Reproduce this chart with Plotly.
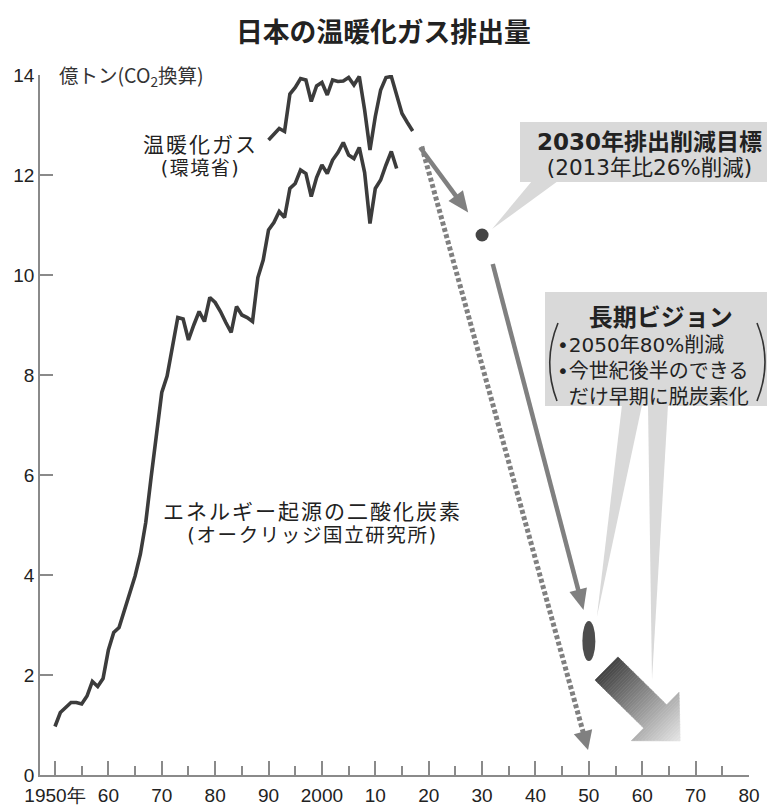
import plotly.graph_objects as go

# ---------------- data ----------------
# Energy-related CO2 emissions (Oak Ridge National Laboratory), 100 million t
co2_years = list(range(1950, 2015))
co2_values = [
    0.97, 1.25, 1.35, 1.45, 1.45, 1.42, 1.58, 1.87, 1.77, 1.93,   # 1950-59
    2.50, 2.85, 2.95, 3.30, 3.62, 3.98, 4.42, 5.05, 5.95, 6.85,   # 1960-69
    7.65, 7.98, 8.60, 9.15, 9.12, 8.70, 9.00, 9.27, 9.07, 9.55,   # 1970-79
    9.45, 9.27, 9.05, 8.85, 9.37, 9.20, 9.15, 9.07, 9.95, 10.30,  # 1980-89
    10.90, 11.05, 11.27, 11.15, 11.73, 11.83, 12.10, 12.03, 11.57, 11.95,  # 1990-99
    12.20, 12.03, 12.30, 12.45, 12.65, 12.40, 12.33, 12.55, 12.05, 11.03,  # 2000-09
    11.73, 11.90, 12.20, 12.47, 12.13,                                    # 2010-14
]

# Greenhouse gas totals (Ministry of the Environment), 100 million t CO2-eq
ghg_years = list(range(1990, 2018))
ghg_values = [
    12.70, 12.82, 12.93, 12.87, 13.62, 13.75, 13.93, 13.90, 13.47, 13.78,  # 1990-99
    13.85, 13.60, 13.90, 13.87, 13.88, 13.95, 13.80, 13.97, 13.30, 12.50,  # 2000-09
    13.17, 13.70, 13.95, 13.97, 13.60, 13.23, 13.05, 12.88,                # 2010-17
]

# 2030 reduction target and 2050 long-term vision
target_year, target_value = 2030, 10.8
vision_year, vision_value = 2050, 2.68

# trend arrows: (start year, start value, end year, end value)
arrow_to_2030 = (2018.4, 12.55, 2027.4, 11.25)
arrow_to_2050 = (2032.0, 10.22, 2049.0, 3.30)
dotted_path = (2018.7, 12.57, 2049.85, 0.50)
decarbon_arrow = (2053.3, 2.13, 2067.1, 0.68)

x_ticks = list(range(1950, 2081, 10))
x_ticktext = ["1950年", "60", "70", "80", "90", "2000", "10",
              "20", "30", "40", "50", "60", "70", "80"]
x_minor = list(range(1955, 2080, 10))
y_ticks = list(range(0, 15, 2))

# ---------------- layout geometry ----------------
W, H = 767, 811
ML, MR, MT, MB = 40, 18, 75, 36
PW, PH = W - ML - MR, H - MT - MB
X_RANGE = [1947.19, 2080]
Y_RANGE = [0, 14]

JP = "Noto Sans CJK JP"
JP_WIDE = "DejaVu Sans, Noto Sans CJK JP"
NUM = "Liberation Sans, Arial, sans-serif"
INK = "#222222"
LINE = "#3c3c3c"
AXIS = "#8a8a8a"
ARROW = "#808080"
BOX = "#d9d9d9"


def to_px(xv, yv):
    px = ML + (xv - X_RANGE[0]) / (X_RANGE[1] - X_RANGE[0]) * PW
    py = MT + (Y_RANGE[1] - yv) / (Y_RANGE[1] - Y_RANGE[0]) * PH
    return px, py


def to_data(px, py):
    xv = X_RANGE[0] + (px - ML) / PW * (X_RANGE[1] - X_RANGE[0])
    yv = Y_RANGE[1] - (py - MT) / PH * (Y_RANGE[1] - Y_RANGE[0])
    return xv, yv


def paper(px, py):
    return (px - ML) / PW, (MT + PH - py) / PH


def paper_path(points):
    pts = [paper(x, y) for x, y in points]
    return "M " + " L ".join(f"{a:.5f},{b:.5f}" for a, b in pts) + " Z"


fig = go.Figure()
shapes = []
annotations = []

# ---- callout boxes (drawn beneath everything) ----
def rect(x0, y0, x1, y1):
    a = paper(x0, y1)
    b = paper(x1, y0)
    shapes.append(dict(type="rect", xref="paper", yref="paper", layer="below",
                       x0=a[0], y0=a[1], x1=b[0], y1=b[1],
                       fillcolor=BOX, line=dict(width=0)))


def wedge(points):
    shapes.append(dict(type="path", xref="paper", yref="paper", layer="below",
                       path=paper_path(points), fillcolor=BOX,
                       line=dict(width=0)))


tx, ty = to_px(target_year, target_value)
vx, vy = to_px(vision_year, vision_value)

rect(520, 122, 767, 182)
wedge([(532, 181), (558, 181), (tx + 10, ty - 6)])

rect(545, 292, 767, 406)
wedge([(622, 405), (642, 405), (vx + 8, vy - 24)])
wedge([(648, 405), (668, 405), (652, 680)])

# brackets around the long-term vision bullets
for p0, c, p1 in [((558, 323), (542, 362), (557, 401)),
                  ((757, 323), (773, 362), (757, 401))]:
    a, b, d = paper(*p0), paper(*c), paper(*p1)
    shapes.append(dict(type="path", xref="paper", yref="paper",
                       path=f"M {a[0]:.5f},{a[1]:.5f} Q {b[0]:.5f},{b[1]:.5f} {d[0]:.5f},{d[1]:.5f}",
                       line=dict(color="#333333", width=1.6)))

# ---- emission curves ----
fig.add_trace(go.Scatter(x=co2_years, y=co2_values, mode="lines",
                         line=dict(color=LINE, width=3.6), cliponaxis=False,
                         hoverinfo="skip", showlegend=False))
fig.add_trace(go.Scatter(x=ghg_years, y=ghg_values, mode="lines",
                         line=dict(color=LINE, width=3.6), cliponaxis=False,
                         hoverinfo="skip", showlegend=False))


# ---- arrows: a line trace plus a filled triangular head ----
def arrow(spec, width, head_len, head_w, dash=None):
    sx, sy = to_px(spec[0], spec[1])
    ex, ey = to_px(spec[2], spec[3])
    L = ((ex - sx) ** 2 + (ey - sy) ** 2) ** 0.5
    ux, uy = (ex - sx) / L, (ey - sy) / L
    nx, ny = -uy, ux
    bx, by = ex - ux * head_len, ey - uy * head_len
    stop = to_data(bx + ux * 1.5, by + uy * 1.5)
    fig.add_trace(go.Scatter(x=[spec[0], stop[0]], y=[spec[1], stop[1]], mode="lines",
                             line=dict(color=ARROW, width=width,
                                       dash=dash or "solid"),
                             cliponaxis=False, hoverinfo="skip", showlegend=False))
    head = [(ex, ey), (bx + nx * head_w / 2, by + ny * head_w / 2),
            (bx - nx * head_w / 2, by - ny * head_w / 2)]
    shapes.append(dict(type="path", xref="paper", yref="paper",
                       path=paper_path(head), fillcolor=ARROW, line=dict(width=0)))


arrow(dotted_path, 5, 19, 19, dash="4px,2.5px")
arrow(arrow_to_2030, 4.5, 21, 18)
arrow(arrow_to_2050, 4.5, 21, 18)

# ---- 2030 target point and 2050 ellipse ----
fig.add_trace(go.Scatter(x=[target_year], y=[target_value], mode="markers",
                         marker=dict(color="#444444", size=13, line=dict(width=0)),
                         cliponaxis=False, hoverinfo="skip", showlegend=False))
ex0, ey0 = to_data(vx - 6.5, vy + 20)
ex1, ey1 = to_data(vx + 6.5, vy - 20)
shapes.append(dict(type="circle", xref="x", yref="y", x0=ex0, x1=ex1, y0=ey0, y1=ey1,
                   fillcolor="#4d4d4d", line=dict(width=0)))

# ---- big gradient arrow toward decarbonisation ----
tx0, ty0 = to_px(decarbon_arrow[0], decarbon_arrow[1])
tx1, ty1 = to_px(decarbon_arrow[2], decarbon_arrow[3])
AL = ((tx1 - tx0) ** 2 + (ty1 - ty0) ** 2) ** 0.5
dx, dy = (tx1 - tx0) / AL, (ty1 - ty0) / AL
nx, ny = -dy, dx
shaft_hw, head_hw, head_len = 16.3, 34.0, 35.0
shaft_len = AL - head_len
c0, c1 = (66, 66, 66), (230, 230, 230)


def hw_at(u, in_head):
    if in_head:
        return head_hw * (AL - u) / head_len
    return shaft_hw


N = 44
bounds = sorted(set([AL * i / N for i in range(N + 1)] + [shaft_len]))
for u0, u1 in zip(bounds[:-1], bounds[1:]):
    in_head = u0 >= shaft_len - 1e-9
    h0, h1 = hw_at(u0, in_head), hw_at(u1, in_head)
    p = lambda u, s: (tx0 + dx * u + nx * s, ty0 + dy * u + ny * s)
    pts = [p(u0, -h0), p(u1, -h1), p(u1, h1), p(u0, h0)]
    t = ((u0 + u1) / 2) / AL
    col = "rgb(%d,%d,%d)" % tuple(round(c0[k] + (c1[k] - c0[k]) * t) for k in range(3))
    shapes.append(dict(type="path", xref="paper", yref="paper",
                       path=paper_path(pts), fillcolor=col,
                       line=dict(color=col, width=0.6)))


# ---- texts ----
def span(text, size, bold=False, color=None, spacing=None):
    style = f"font-size:{size}px"
    if color:
        style += f";color:{color}"
    if spacing:
        style += f";letter-spacing:{spacing}px"
    t = f"<b>{text}</b>" if bold else text
    return f'<span style="{style}">{t}</span>'


def label(px, py, text, size, anchor="center", family=JP, color=INK, align="center"):
    x, y = paper(px, py)
    annotations.append(dict(x=x, y=y, xref="paper", yref="paper", text=text,
                            showarrow=False, xanchor=anchor, yanchor="middle",
                            align=align, borderpad=0,
                            font=dict(family=family, size=size, color=color)))


label(383, 30, "<b>日本の温暖化ガス排出量</b>", 26.8)
label(58, 75, "億トン(CO<sub>2</sub>換算)", 19.5, anchor="left", color="#333333")
label(200, 156, span("温暖化ガス", 21, spacing=2) + "<br>"
      + span("(環境省)", 19, spacing=1.5), 17.5, family=JP_WIDE)
label(312, 523, span("エネルギー起源の二酸化炭素", 21, spacing=2) + "<br>"
      + span("(オークリッジ国立研究所)", 19.5, spacing=1.6), 17.8, family=JP_WIDE)
label(649, 154, span("2030年排出削減目標", 23, bold=True) + "<br>"
      + span("(2013年比26%削減)", 21.5), 19.2, family=JP_WIDE)
label(556, 357,
      span("\u3000&nbsp;", 24) + span("長期ビジョン", 24, bold=True) + "<br>"
      + span("•2050年80%削減", 20) + "<br>"
      + span("•今世紀後半のできる", 20) + "<br>"
      + span("•", 20, color="rgba(0,0,0,0)") + span("だけ早期に脱炭素化", 20),
      20, anchor="left", family=JP_WIDE, align="left")

fig.update_layout(
    width=W, height=H,
    margin=dict(l=ML, r=MR, t=MT, b=MB, pad=0, autoexpand=False),
    paper_bgcolor="white", plot_bgcolor="white",
    shapes=shapes, annotations=annotations,
    showlegend=False,
    xaxis=dict(range=X_RANGE, showgrid=False, zeroline=False, automargin=False,
               showline=True, linecolor=AXIS, linewidth=1.5,
               ticks="inside", ticklen=14, tickwidth=1.5, tickcolor=AXIS,
               tickmode="array", tickvals=x_ticks, ticktext=x_ticktext,
               tickfont=dict(family=NUM, size=19, color=INK),
               ticklabelstandoff=2,
               minor=dict(tickmode="array", tickvals=x_minor, ticks="inside",
                          ticklen=9, tickwidth=1.5, tickcolor=AXIS),
               fixedrange=True),
    yaxis=dict(range=Y_RANGE, showgrid=False, zeroline=False, automargin=False,
               showline=True, linecolor=AXIS, linewidth=1.5,
               ticks="inside", ticklen=13, tickwidth=1.5, tickcolor=AXIS,
               tickmode="array", tickvals=y_ticks,
               tickfont=dict(family=NUM, size=19, color=INK),
               fixedrange=True),
)

fig.write_html("out.html")
